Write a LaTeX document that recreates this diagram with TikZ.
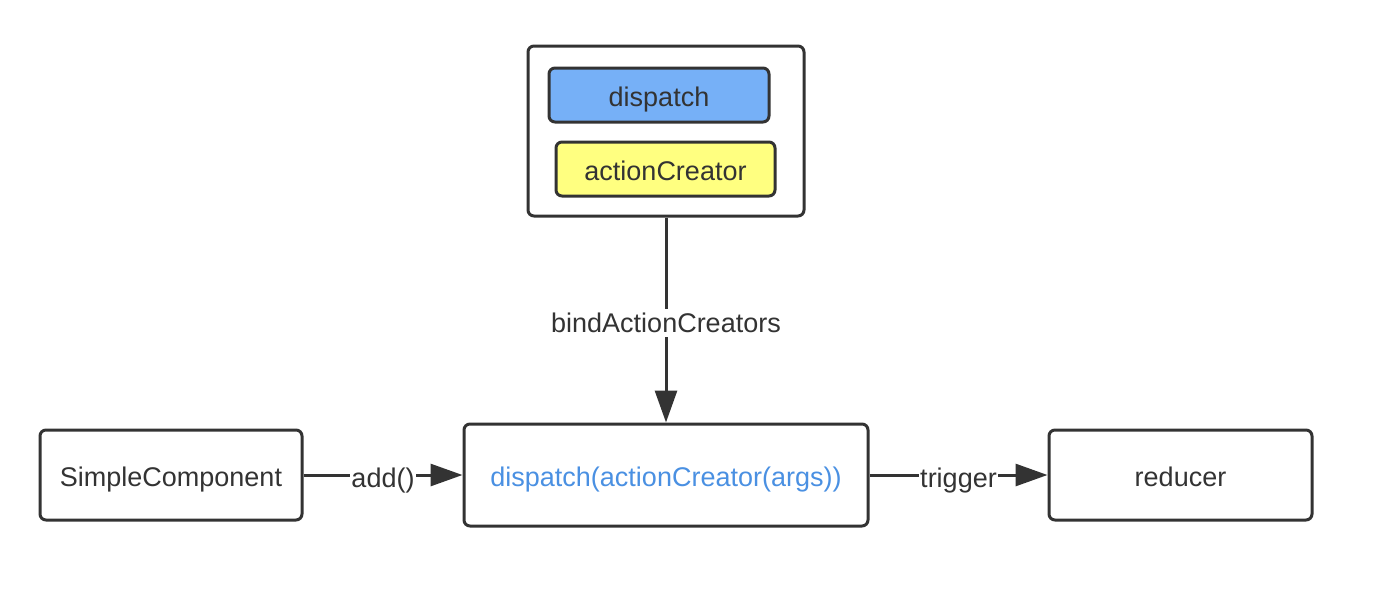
\documentclass[tikz,border=0pt]{standalone}
\usepackage{fontspec}
\setmainfont{Liberation Sans}
\usetikzlibrary{arrows.meta}
\definecolor{ink}{HTML}{333333}
\definecolor{bluefill}{HTML}{76B0F7}
\definecolor{yellowfill}{HTML}{FFFF80}
\definecolor{bluetext}{HTML}{4A90E2}
\begin{document}
\begin{tikzpicture}[x=1pt,y=-1pt,
  box/.style={draw=ink,line width=3pt,rounded corners=6pt,text=ink,font=\fontsize{27}{32}\selectfont,inner sep=0pt,text height=24pt,text depth=1pt},
  conn/.style={draw=ink,line width=3pt,-{Triangle[length=32pt,width=22pt]}},
  lbl/.style={fill=white,text=ink,font=\fontsize{27}{32}\selectfont,inner sep=2pt,yshift=-3pt}]
\useasboundingbox (0,0) rectangle (1378,600);
\node[box,minimum width=276pt,minimum height=170pt] (top) at (666,131) {};
\node[box,fill=bluefill,minimum width=220pt,minimum height=54pt] (disp) at (659,95) {dispatch};
\node[box,fill=yellowfill,minimum width=219pt,minimum height=54pt] (ac) at (665.5,169) {actionCreator};
\node[box,minimum width=262pt,minimum height=90pt] (sc) at (171,475) {SimpleComponent};
\node[box,minimum width=404pt,minimum height=102pt,text=bluetext] (mid) at (666,475) {dispatch(actionCreator(args))};
\node[box,minimum width=263pt,minimum height=90pt] (red) at (1180.5,475) {reducer};
\draw[conn] (top.south) -- node[lbl,inner ysep=4pt] (l1) {bindActionCreators} (mid.north);
\draw[conn] (sc.east) -- node[lbl,inner sep=1pt,yshift=-3pt] (l2) {add()} (mid.west);
\draw[conn] (mid.east) -- node[lbl,inner sep=1pt,yshift=-3pt] (l3) {trigger} (red.west);
\end{tikzpicture}
\end{document}
